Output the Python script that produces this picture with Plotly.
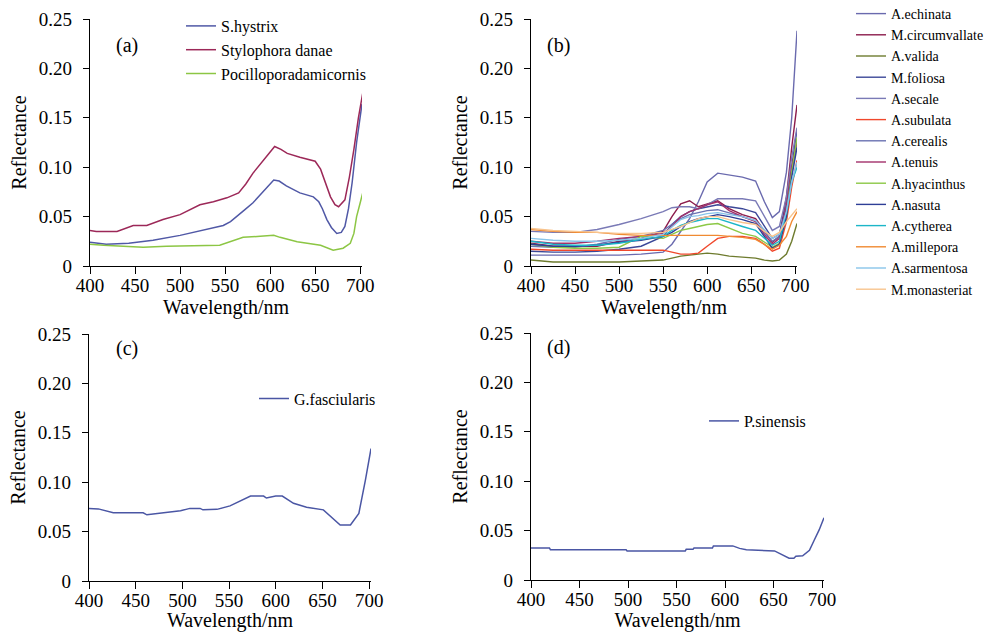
import plotly.graph_objects as go

# ---------------- data ----------------
# Panel (a)
wl_hystrix = [400, 418, 443, 470, 500, 530, 548, 556, 563, 572, 581, 593, 604, 610, 618, 633, 648, 654, 658, 663, 668, 674, 679, 683, 687, 691, 696, 702]
r_hystrix = [0.024, 0.022, 0.023, 0.026, 0.031, 0.037, 0.041, 0.045, 0.050, 0.057, 0.064, 0.076, 0.087, 0.086, 0.081, 0.074, 0.070, 0.065, 0.058, 0.047, 0.039, 0.033, 0.034, 0.040, 0.058, 0.084, 0.125, 0.164]

wl_danae = [400, 407, 430, 448, 463, 481, 500, 522, 537, 552, 565, 573, 581, 593, 605, 612, 619, 633, 650, 656, 661, 667, 672, 676, 683, 688, 693, 698, 703]
r_danae = [0.036, 0.035, 0.035, 0.041, 0.041, 0.047, 0.052, 0.062, 0.065, 0.069, 0.074, 0.083, 0.094, 0.108, 0.121, 0.118, 0.114, 0.110, 0.106, 0.098, 0.085, 0.070, 0.062, 0.060, 0.067, 0.090, 0.118, 0.150, 0.176]

wl_damicornis = [400, 415, 459, 485, 544, 555, 570, 589, 604, 611, 630, 656, 670, 681, 689, 693, 696, 700, 703]
r_damicornis = [0.022, 0.021, 0.019, 0.020, 0.021, 0.0245, 0.029, 0.030, 0.031, 0.029, 0.0245, 0.021, 0.016, 0.018, 0.023, 0.033, 0.050, 0.064, 0.0745]

# Panel (b)
wl_b = [400, 425, 450, 475, 500, 525, 550, 560, 570, 580, 590, 600, 612, 625, 640, 655, 665, 674, 682, 690, 696, 702]
r_echinata = [0.011, 0.011, 0.011, 0.011, 0.011, 0.012, 0.014, 0.022, 0.035, 0.048, 0.065, 0.085, 0.094, 0.092, 0.090, 0.086, 0.065, 0.049, 0.055, 0.095, 0.150, 0.238]
r_circumvallate = [0.023, 0.020, 0.020, 0.020, 0.025, 0.028, 0.035, 0.050, 0.063, 0.066, 0.060, 0.063, 0.066, 0.058, 0.052, 0.048, 0.035, 0.024, 0.030, 0.070, 0.120, 0.163]
r_valida = [0.006, 0.004, 0.004, 0.004, 0.004, 0.005, 0.006, 0.008, 0.010, 0.011, 0.012, 0.013, 0.012, 0.010, 0.009, 0.008, 0.006, 0.005, 0.006, 0.012, 0.025, 0.043]
r_foliosa = [0.015, 0.014, 0.014, 0.015, 0.017, 0.020, 0.030, 0.042, 0.050, 0.055, 0.058, 0.060, 0.062, 0.060, 0.058, 0.054, 0.040, 0.028, 0.032, 0.062, 0.100, 0.138]
r_secale = [0.035, 0.034, 0.034, 0.037, 0.042, 0.048, 0.055, 0.059, 0.060, 0.060, 0.058, 0.062, 0.068, 0.068, 0.068, 0.066, 0.050, 0.036, 0.040, 0.070, 0.110, 0.140]
r_subulata = [0.017, 0.016, 0.016, 0.016, 0.016, 0.016, 0.016, 0.014, 0.012, 0.012, 0.013, 0.020, 0.028, 0.030, 0.030, 0.028, 0.022, 0.015, 0.018, 0.045, 0.080, 0.107]
r_cerealis = [0.020, 0.019, 0.019, 0.022, 0.027, 0.030, 0.036, 0.042, 0.048, 0.052, 0.054, 0.056, 0.057, 0.054, 0.050, 0.046, 0.034, 0.025, 0.030, 0.060, 0.095, 0.128]
r_tenuis = [0.025, 0.023, 0.023, 0.025, 0.028, 0.030, 0.033, 0.040, 0.050, 0.055, 0.058, 0.062, 0.065, 0.056, 0.050, 0.045, 0.032, 0.022, 0.028, 0.060, 0.100, 0.125]
r_hyacinthus = [0.022, 0.019, 0.018, 0.018, 0.019, 0.030, 0.028, 0.032, 0.036, 0.038, 0.040, 0.042, 0.043, 0.038, 0.033, 0.030, 0.024, 0.019, 0.023, 0.050, 0.095, 0.130]
r_nasuta = [0.022, 0.020, 0.020, 0.021, 0.024, 0.026, 0.030, 0.034, 0.040, 0.045, 0.048, 0.050, 0.052, 0.050, 0.047, 0.043, 0.030, 0.018, 0.022, 0.050, 0.090, 0.120]
r_cytherea = [0.025, 0.022, 0.021, 0.021, 0.023, 0.027, 0.030, 0.036, 0.041, 0.044, 0.046, 0.048, 0.048, 0.044, 0.040, 0.036, 0.028, 0.021, 0.025, 0.055, 0.085, 0.100]
r_millepora = [0.037, 0.035, 0.034, 0.034, 0.032, 0.031, 0.031, 0.031, 0.031, 0.031, 0.031, 0.031, 0.031, 0.030, 0.029, 0.027, 0.022, 0.017, 0.021, 0.030, 0.045, 0.055]
r_sarmentosa = [0.028, 0.026, 0.025, 0.025, 0.026, 0.028, 0.032, 0.040, 0.047, 0.050, 0.051, 0.053, 0.054, 0.052, 0.050, 0.046, 0.036, 0.028, 0.032, 0.055, 0.085, 0.105]
r_monasteriat = [0.038, 0.036, 0.035, 0.034, 0.033, 0.033, 0.034, 0.037, 0.040, 0.044, 0.048, 0.050, 0.050, 0.047, 0.044, 0.042, 0.035, 0.030, 0.034, 0.045, 0.052, 0.058]

# Panel (c)
wl_fasc = [400, 410, 426, 458, 462, 480, 498, 508, 519, 522, 537, 551, 573, 587, 590, 600, 607, 619, 633, 651, 662, 669, 680, 689, 696, 702]
r_fasc = [0.0735, 0.073, 0.069, 0.069, 0.067, 0.069, 0.071, 0.0735, 0.0735, 0.072, 0.0725, 0.076, 0.086, 0.086, 0.084, 0.086, 0.086, 0.0786, 0.0746, 0.072, 0.063, 0.0567, 0.0567, 0.0685, 0.102, 0.134]

# Panel (d)
wl_sin = [400, 419, 420, 498, 499, 559, 560, 567, 568, 587, 588, 608, 615, 622, 651, 659, 666, 671, 673, 680, 687, 692, 697, 702]
r_sin = [0.0324, 0.0324, 0.0307, 0.0307, 0.0294, 0.0294, 0.031, 0.031, 0.0324, 0.0324, 0.0345, 0.0345, 0.032, 0.0307, 0.0294, 0.0253, 0.022, 0.022, 0.024, 0.0245, 0.030, 0.0405, 0.0507, 0.063]

x_ticks = [400, 450, 500, 550, 600, 650, 700]
y_ticks = [0, 0.05, 0.10, 0.15, 0.20, 0.25]
y_ticktext = ["0", "0.05", "0.10", "0.15", "0.20", "0.25"]

series_a = [
    ("S.hystrix", wl_hystrix, r_hystrix, "#5058a6"),
    ("Stylophora danae", wl_danae, r_danae, "#9c2858"),
    ("Pocilloporadamicornis", wl_damicornis, r_damicornis, "#8cc644"),
]
series_b = [
    ("A.echinata", r_echinata, "#6a6aae"),
    ("M.circumvallate", r_circumvallate, "#8c1c4c"),
    ("A.valida", r_valida, "#6e7b2e"),
    ("M.foliosa", r_foliosa, "#3c4898"),
    ("A.secale", r_secale, "#7a7ab6"),
    ("A.subulata", r_subulata, "#f0482c"),
    ("A.cerealis", r_cerealis, "#6a72b2"),
    ("A.tenuis", r_tenuis, "#a3306a"),
    ("A.hyacinthus", r_hyacinthus, "#8cc846"),
    ("A.nasuta", r_nasuta, "#2e3e96"),
    ("A.cytherea", r_cytherea, "#1cb6c8"),
    ("A.millepora", r_millepora, "#f08a32"),
    ("A.sarmentosa", r_sarmentosa, "#88c4ea"),
    ("M.monasteriat", r_monasteriat, "#f8c48e"),
]

# ---------------- figure ----------------
W, H = 1001, 632
FONT = "Liberation Serif"

def xd(a, b):
    return [a / W, b / W]

def yd(top, bottom):
    return [1 - bottom / H, 1 - top / H]

fig = go.Figure()

for name, x, y, c in series_a:
    fig.add_trace(go.Scatter(x=x, y=y, mode="lines", name=name, line=dict(color=c, width=1.5),
                             xaxis="x", yaxis="y", legend="legend"))
for name, y, c in series_b:
    fig.add_trace(go.Scatter(x=wl_b, y=y, mode="lines", name=name, line=dict(color=c, width=1.4),
                             xaxis="x2", yaxis="y2", legend="legend2"))
fig.add_trace(go.Scatter(x=wl_fasc, y=r_fasc, mode="lines", name="G.fasciularis",
                         line=dict(color="#4a56a4", width=1.5), xaxis="x3", yaxis="y3", legend="legend3"))
fig.add_trace(go.Scatter(x=wl_sin, y=r_sin, mode="lines", name="P.sinensis",
                         line=dict(color="#4a56a4", width=1.5), xaxis="x4", yaxis="y4", legend="legend4"))

def xaxis(dom, anchor):
    return dict(domain=dom, anchor=anchor, range=[400, 702], tickvals=x_ticks, ticks="outside",
                ticklen=2, tickwidth=1.2, tickcolor="black", showline=True, linecolor="black",
                linewidth=1.3, showgrid=False, zeroline=False, automargin=False,
                minor=dict(tickvals=x_ticks, ticks="outside", ticklen=7, tickwidth=1.2,
                           tickcolor="black", showgrid=False),
                tickfont=dict(family=FONT, size=19, color="black"),
                title=dict(text="Wavelength/nm", font=dict(family=FONT, size=20, color="black"), standoff=1))

def yaxis(dom, anchor):
    return dict(domain=dom, anchor=anchor, range=[0, 0.25], tickvals=y_ticks, ticktext=y_ticktext,
                ticks="outside", ticklen=6, tickwidth=1.2, tickcolor="black", showline=True,
                linecolor="black", linewidth=1.3, showgrid=False, zeroline=False, automargin=False,
                ticklabelstandoff=7,
                tickfont=dict(family=FONT, size=19, color="black"),
                title=dict(text="Reflectance", font=dict(family=FONT, size=20, color="black"), standoff=6))

leg_common = dict(bgcolor="rgba(0,0,0,0)", borderwidth=0, xanchor="left", yanchor="top")

fig.update_layout(
    template="none",
    width=W, height=H, margin=dict(l=0, r=0, t=0, b=0, autoexpand=False),
    paper_bgcolor="white", plot_bgcolor="white",
    font=dict(family=FONT, color="black"),
    xaxis=xaxis(xd(90, 362), "y"), yaxis=yaxis(yd(19, 266), "x"),
    xaxis2=xaxis(xd(531, 797), "y2"), yaxis2=yaxis(yd(19, 266), "x2"),
    xaxis3=xaxis(xd(89, 371), "y3"), yaxis3=yaxis(yd(334, 581), "x3"),
    xaxis4=xaxis(xd(531, 824), "y4"), yaxis4=yaxis(yd(333, 580), "x4"),
    legend=dict(leg_common, x=181 / W, y=1 - 9 / H, font=dict(family=FONT, size=16, color="black")),
    legend2=dict(leg_common, x=851 / W, y=1 + 2 / H, font=dict(family=FONT, size=14, color="black")),
    legend3=dict(leg_common, x=254 / W, y=1 - 381.5 / H, font=dict(family=FONT, size=16, color="black")),
    legend4=dict(leg_common, x=704 / W, y=1 - 404 / H, font=dict(family=FONT, size=16, color="black")),
    showlegend=True,
)

labels = [("(a)", 114, 45), ("(b)", 545, 45), ("(c)", 114, 348), ("(d)", 545, 347)]
for txt, px, py in labels:
    fig.add_annotation(text=txt, x=px / W, y=1 - py / H, xref="paper", yref="paper",
                       xanchor="left", yanchor="middle", showarrow=False,
                       font=dict(family=FONT, size=20, color="black"))

fig.write_html("out.html")
